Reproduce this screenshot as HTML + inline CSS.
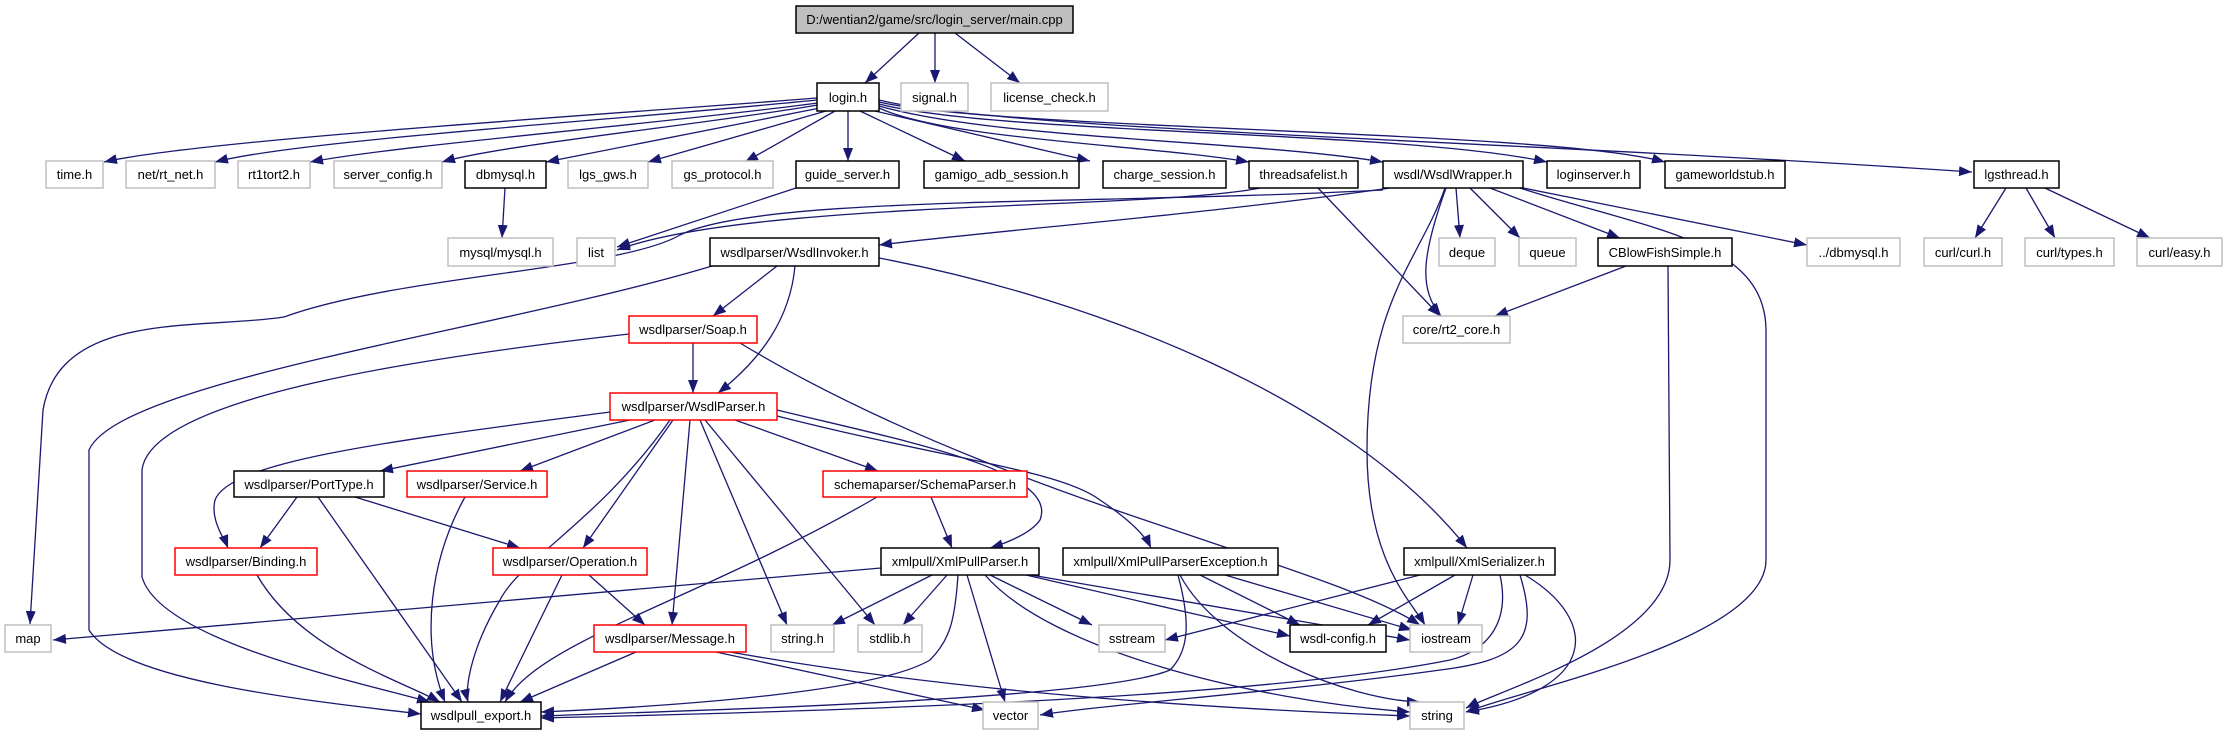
<!DOCTYPE html>
<html><head><meta charset="utf-8"><style>
html,body{margin:0;padding:0;background:#fff;}
svg{display:block;}
text{font-family:"Liberation Sans",Arial,sans-serif;font-size:13px;fill:#000;}
.g{fill:#fff;stroke:#bfbfbf;stroke-width:1.5}
.b{fill:#fff;stroke:#000;stroke-width:1.5}
.r{fill:#fff;stroke:#ff0000;stroke-width:1.5}
.e{fill:none;stroke:#191970;stroke-width:1.3;marker-end:url(#a)}
</style></head><body>
<svg width="2228" height="736" viewBox="0 0 2228 736" xmlns="http://www.w3.org/2000/svg">
<defs><marker id="a" markerUnits="userSpaceOnUse" markerWidth="14" markerHeight="10" refX="13" refY="5" orient="auto"><path d="M0,0 L13,5 L0,10 z" fill="#191970"/></marker></defs>
<g>
<path class="e" d="M919,33 L865,83"/>
<path class="e" d="M935,33 L935,83"/>
<path class="e" d="M955,33 L1020,83"/>
<path class="e" d="M817,98 C600,115 200,140 104,162"/>
<path class="e" d="M817,100 C620,120 300,140 215,162"/>
<path class="e" d="M818,103 C650,125 400,145 310,162"/>
<path class="e" d="M818,105 C700,125 500,145 442,162"/>
<path class="e" d="M820,108 L546,162"/>
<path class="e" d="M826,111 L648,162"/>
<path class="e" d="M835,111 L745,162"/>
<path class="e" d="M848,111 L848,161"/>
<path class="e" d="M860,111 L965,161"/>
<path class="e" d="M875,111 L1090,161"/>
<path class="e" d="M879,108 C950,140 1150,145 1249,162"/>
<path class="e" d="M879,106 C1000,140 1250,140 1383,162"/>
<path class="e" d="M879,104 C1000,135 1400,130 1547,162"/>
<path class="e" d="M879,102 C1000,130 1550,130 1665,162"/>
<path class="e" d="M879,100 C1000,130 1500,140 1972,172"/>
<path class="e" d="M505,188 L502,238"/>
<path class="e" d="M796,188 L617,247"/>
<path class="e" d="M1260,188 C1150,210 750,200 617,250"/>
<path class="e" d="M1390,188 C1200,215 1000,230 879,245"/>
<path class="e" d="M1383,190 C1100,205 760,195 680,235 C620,270 400,275 284,317 C200,330 60,310 43,410 L30,624"/>
<path class="e" d="M1456,188 L1460,238"/>
<path class="e" d="M1470,188 L1520,238"/>
<path class="e" d="M1490,188 L1620,238"/>
<path class="e" d="M1523,188 L1807,245"/>
<path class="e" d="M1446,188 C1420,260 1420,290 1441,316"/>
<path class="e" d="M1318,188 L1440,316"/>
<path class="e" d="M1626,266 L1495,316"/>
<path class="e" d="M1445,188 C1420,260 1367,300 1367,450 C1367,560 1410,600 1425,625"/>
<path class="e" d="M1520,188 C1650,230 1765,240 1766,330 L1766,560 C1766,640 1520,690 1466,712"/>
<path class="e" d="M1668,266 L1670,560 C1670,640 1500,690 1466,708"/>
<path class="e" d="M2006,188 L1975,238"/>
<path class="e" d="M2026,188 L2055,238"/>
<path class="e" d="M2045,188 L2150,238"/>
<path class="e" d="M777,266 L713,316"/>
<path class="e" d="M795,266 C790,320 760,360 718,393"/>
<path class="e" d="M712,266 C500,330 120,380 89,450 L89,630 C120,680 300,700 421,714"/>
<path class="e" d="M879,258 C1100,300 1350,400 1467,548"/>
<path class="e" d="M693,343 L693,393"/>
<path class="e" d="M629,334 C400,360 150,400 142,470 L142,577 C160,640 350,680 430,702"/>
<path class="e" d="M740,343 C1000,500 1320,560 1420,625"/>
<path class="e" d="M630,420 L380,471"/>
<path class="e" d="M610,412 C400,440 230,460 215,500 C210,520 225,540 228,548"/>
<path class="e" d="M670,420 C600,520 520,560 500,600 C470,650 465,690 468,702"/>
<path class="e" d="M777,410 C900,440 1060,470 1040,520 C1030,535 1000,545 990,548"/>
<path class="e" d="M777,416 C950,460 1060,470 1100,500 C1130,520 1145,535 1151,548"/>
<path class="e" d="M655,420 L520,471"/>
<path class="e" d="M673,420 L583,548"/>
<path class="e" d="M690,420 L672,625"/>
<path class="e" d="M700,420 L787,625"/>
<path class="e" d="M705,420 L875,625"/>
<path class="e" d="M735,420 L878,471"/>
<path class="e" d="M297,497 L260,548"/>
<path class="e" d="M318,497 L462,702"/>
<path class="e" d="M355,497 L520,548"/>
<path class="e" d="M465,497 C430,560 420,640 445,702"/>
<path class="e" d="M931,497 L952,548"/>
<path class="e" d="M877,497 C700,600 540,640 505,702"/>
<path class="e" d="M257,575 C300,650 400,680 440,702"/>
<path class="e" d="M562,575 L500,702"/>
<path class="e" d="M589,575 L645,625"/>
<path class="e" d="M636,652 L520,702"/>
<path class="e" d="M716,652 L985,710"/>
<path class="e" d="M730,652 C1000,700 1300,712 1410,716"/>
<path class="e" d="M881,568 L53,640"/>
<path class="e" d="M932,575 L832,625"/>
<path class="e" d="M947,575 L903,625"/>
<path class="e" d="M990,575 L1092,625"/>
<path class="e" d="M1026,575 L1290,636"/>
<path class="e" d="M1031,575 L1410,640"/>
<path class="e" d="M958,575 C955,620 950,640 930,660 C880,690 700,705 541,712"/>
<path class="e" d="M967,575 L1005,702"/>
<path class="e" d="M985,575 C1050,650 1250,700 1410,712"/>
<path class="e" d="M1200,575 L1300,625"/>
<path class="e" d="M1225,575 L1412,630"/>
<path class="e" d="M1178,575 C1190,620 1190,650 1170,670 C1100,700 700,710 541,716"/>
<path class="e" d="M1180,575 C1220,650 1350,700 1420,702"/>
<path class="e" d="M1420,575 L1165,640"/>
<path class="e" d="M1455,575 L1368,625"/>
<path class="e" d="M1473,575 L1458,625"/>
<path class="e" d="M1500,575 C1510,620 1490,650 1450,660 C1250,700 800,712 541,718"/>
<path class="e" d="M1520,575 C1540,640 1520,660 1440,670 C1300,690 1100,705 1040,715"/>
<path class="e" d="M1525,575 C1600,620 1600,690 1466,712"/>
</g>
<g>
<rect x="796" y="6" width="277" height="27" fill="#bfbfbf" stroke="#000" stroke-width="1.5"/><text x="934.5" y="24" text-anchor="middle">D:/wentian2/game/src/login_server/main.cpp</text>
<rect class="b" x="817" y="83" width="62" height="28"/><text x="848" y="102" text-anchor="middle">login.h</text>
<rect class="g" x="901" y="83" width="67" height="28"/><text x="934.5" y="102" text-anchor="middle">signal.h</text>
<rect class="g" x="991" y="83" width="117" height="28"/><text x="1049.5" y="102" text-anchor="middle">license_check.h</text>

<rect class="g" x="46" y="161" width="57" height="27"/><text x="74.5" y="179" text-anchor="middle">time.h</text>
<rect class="g" x="126" y="161" width="89" height="27"/><text x="170.5" y="179" text-anchor="middle">net/rt_net.h</text>
<rect class="g" x="238" y="161" width="72" height="27"/><text x="274" y="179" text-anchor="middle">rt1tort2.h</text>
<rect class="g" x="334" y="161" width="108" height="27"/><text x="388" y="179" text-anchor="middle">server_config.h</text>
<rect class="b" x="465" y="161" width="81" height="27"/><text x="505.5" y="179" text-anchor="middle">dbmysql.h</text>
<rect class="g" x="568" y="161" width="80" height="27"/><text x="608" y="179" text-anchor="middle">lgs_gws.h</text>
<rect class="g" x="672" y="161" width="101" height="27"/><text x="722.5" y="179" text-anchor="middle">gs_protocol.h</text>
<rect class="b" x="796" y="161" width="103" height="27"/><text x="847.5" y="179" text-anchor="middle">guide_server.h</text>
<rect class="b" x="924" y="161" width="155" height="27"/><text x="1001.5" y="179" text-anchor="middle">gamigo_adb_session.h</text>
<rect class="b" x="1103" y="161" width="123" height="27"/><text x="1164.5" y="179" text-anchor="middle">charge_session.h</text>
<rect class="b" x="1249" y="161" width="109" height="27"/><text x="1303.5" y="179" text-anchor="middle">threadsafelist.h</text>
<rect class="b" x="1383" y="161" width="140" height="27"/><text x="1453" y="179" text-anchor="middle">wsdl/WsdlWrapper.h</text>
<rect class="b" x="1547" y="161" width="93" height="27"/><text x="1593.5" y="179" text-anchor="middle">loginserver.h</text>
<rect class="b" x="1665" y="161" width="120" height="27"/><text x="1725" y="179" text-anchor="middle">gameworldstub.h</text>
<rect class="b" x="1974" y="161" width="85" height="27"/><text x="2016.5" y="179" text-anchor="middle">lgsthread.h</text>

<rect class="g" x="448" y="238" width="105" height="28"/><text x="500.5" y="257" text-anchor="middle">mysql/mysql.h</text>
<rect class="g" x="577" y="238" width="38" height="28"/><text x="596" y="257" text-anchor="middle">list</text>
<rect class="b" x="710" y="238" width="169" height="28"/><text x="794.5" y="257" text-anchor="middle">wsdlparser/WsdlInvoker.h</text>
<rect class="g" x="1439" y="238" width="56" height="28"/><text x="1467" y="257" text-anchor="middle">deque</text>
<rect class="g" x="1519" y="238" width="57" height="28"/><text x="1547.5" y="257" text-anchor="middle">queue</text>
<rect class="b" x="1598" y="238" width="134" height="28"/><text x="1665" y="257" text-anchor="middle">CBlowFishSimple.h</text>
<rect class="g" x="1807" y="238" width="93" height="28"/><text x="1853.5" y="257" text-anchor="middle">../dbmysql.h</text>
<rect class="g" x="1924" y="238" width="78" height="28"/><text x="1963" y="257" text-anchor="middle">curl/curl.h</text>
<rect class="g" x="2025" y="238" width="89" height="28"/><text x="2069.5" y="257" text-anchor="middle">curl/types.h</text>
<rect class="g" x="2137" y="238" width="85" height="28"/><text x="2179.5" y="257" text-anchor="middle">curl/easy.h</text>

<rect class="r" x="629" y="316" width="128" height="27"/><text x="693" y="334" text-anchor="middle">wsdlparser/Soap.h</text>
<rect class="g" x="1403" y="316" width="107" height="27"/><text x="1456.5" y="334" text-anchor="middle">core/rt2_core.h</text>

<rect class="r" x="610" y="393" width="167" height="27"/><text x="693.5" y="411" text-anchor="middle">wsdlparser/WsdlParser.h</text>

<rect class="b" x="234" y="471" width="150" height="26"/><text x="309" y="489" text-anchor="middle">wsdlparser/PortType.h</text>
<rect class="r" x="407" y="471" width="140" height="26"/><text x="477" y="489" text-anchor="middle">wsdlparser/Service.h</text>
<rect class="r" x="823" y="471" width="204" height="26"/><text x="925" y="489" text-anchor="middle">schemaparser/SchemaParser.h</text>

<rect class="r" x="175" y="548" width="142" height="27"/><text x="246" y="566" text-anchor="middle">wsdlparser/Binding.h</text>
<rect class="r" x="493" y="548" width="154" height="27"/><text x="570" y="566" text-anchor="middle">wsdlparser/Operation.h</text>
<rect class="b" x="881" y="548" width="158" height="27"/><text x="960" y="566" text-anchor="middle">xmlpull/XmlPullParser.h</text>
<rect class="b" x="1063" y="548" width="215" height="27"/><text x="1170.5" y="566" text-anchor="middle">xmlpull/XmlPullParserException.h</text>
<rect class="b" x="1404" y="548" width="151" height="27"/><text x="1479.5" y="566" text-anchor="middle">xmlpull/XmlSerializer.h</text>

<rect class="g" x="5" y="625" width="46" height="27"/><text x="28" y="643" text-anchor="middle">map</text>
<rect class="r" x="594" y="625" width="152" height="27"/><text x="670" y="643" text-anchor="middle">wsdlparser/Message.h</text>
<rect class="g" x="771" y="625" width="63" height="27"/><text x="802.5" y="643" text-anchor="middle">string.h</text>
<rect class="g" x="858" y="625" width="64" height="27"/><text x="890" y="643" text-anchor="middle">stdlib.h</text>
<rect class="g" x="1099" y="625" width="66" height="27"/><text x="1132" y="643" text-anchor="middle">sstream</text>
<rect class="b" x="1290" y="625" width="96" height="27"/><text x="1338" y="643" text-anchor="middle">wsdl-config.h</text>
<rect class="g" x="1410" y="625" width="72" height="27"/><text x="1446" y="643" text-anchor="middle">iostream</text>

<rect class="b" x="421" y="702" width="120" height="27"/><text x="481" y="720" text-anchor="middle">wsdlpull_export.h</text>
<rect class="g" x="983" y="702" width="55" height="27"/><text x="1010.5" y="720" text-anchor="middle">vector</text>
<rect class="g" x="1410" y="702" width="54" height="27"/><text x="1437" y="720" text-anchor="middle">string</text>
</g>
</svg>
</body></html>
